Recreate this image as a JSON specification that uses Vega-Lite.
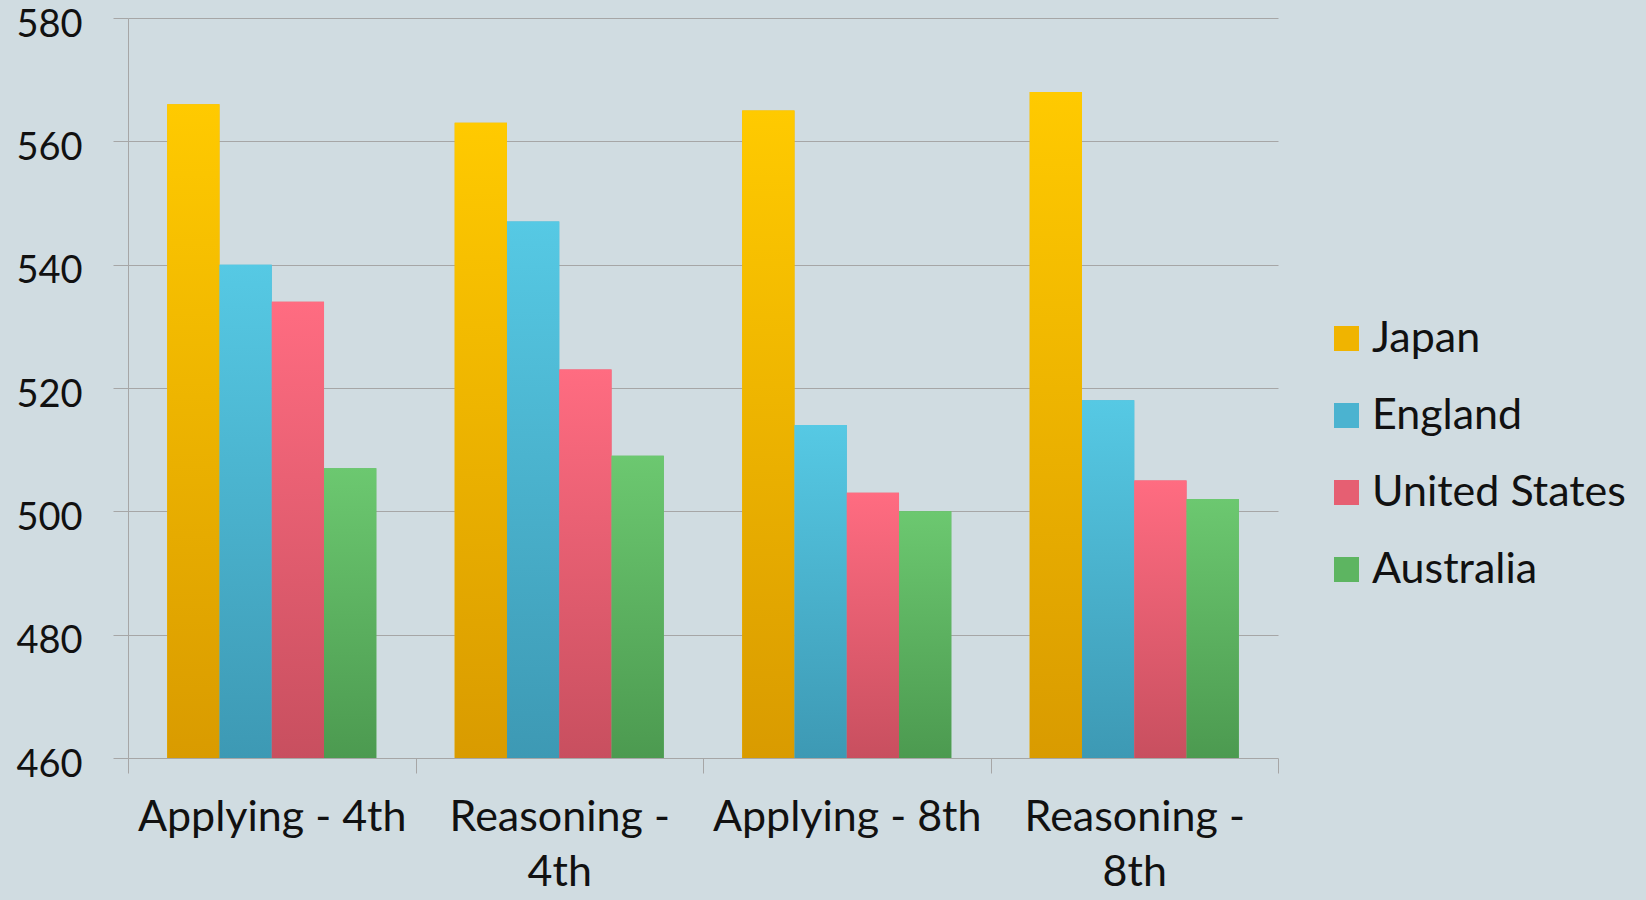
{
  "$schema": "https://vega.github.io/schema/vega-lite/v6.json",
  "width": 1150,
  "height": 740,
  "autosize": {"type": "none"},
  "padding": {"left": 128, "top": 18, "right": 368, "bottom": 142},
  "background": "#D0DCE1",
  "config": {
    "view": {"stroke": null},
    "font": "Lato",
    "axis": {"labelFont": "Lato", "labelColor": "#111111", "gridColor": "#A6A6A6", "gridWidth": 1, "domainColor": "#A6A6A6", "tickColor": "#A6A6A6", "tickSize": 15},
    "legend": {"labelFont": "Lato", "labelColor": "#111111"}
  },
  "data": {
    "values": [
      {"category": "Applying - 4th", "country": "Japan", "score": 566},
      {"category": "Applying - 4th", "country": "England", "score": 540},
      {"category": "Applying - 4th", "country": "United States", "score": 534},
      {"category": "Applying - 4th", "country": "Australia", "score": 507},
      {"category": "Reasoning - 4th", "country": "Japan", "score": 563},
      {"category": "Reasoning - 4th", "country": "England", "score": 547},
      {"category": "Reasoning - 4th", "country": "United States", "score": 523},
      {"category": "Reasoning - 4th", "country": "Australia", "score": 509},
      {"category": "Applying - 8th", "country": "Japan", "score": 565},
      {"category": "Applying - 8th", "country": "England", "score": 514},
      {"category": "Applying - 8th", "country": "United States", "score": 503},
      {"category": "Applying - 8th", "country": "Australia", "score": 500},
      {"category": "Reasoning - 8th", "country": "Japan", "score": 568},
      {"category": "Reasoning - 8th", "country": "England", "score": 518},
      {"category": "Reasoning - 8th", "country": "United States", "score": 505},
      {"category": "Reasoning - 8th", "country": "Australia", "score": 502}
    ]
  },
  "encoding": {
    "x": {
      "field": "category", "type": "nominal",
      "sort": ["Applying - 4th", "Reasoning - 4th", "Applying - 8th", "Reasoning - 8th"],
      "scale": {"paddingInner": 0, "paddingOuter": 0},
      "axis": {
        "title": null, "labelAngle": 0, "labelFontSize": 43, "labelPadding": 23, "labelLimit": 500,
        "labelLineHeight": 55, "tickBand": "extent", "grid": false, "domain": false,
        "labelExpr": "indexof(datum.label, 'Reasoning') == 0 ? [substring(datum.label, 0, 11), substring(datum.label, 12)] : datum.label"
      }
    },
    "xOffset": {
      "field": "country", "type": "nominal",
      "sort": ["Japan", "England", "United States", "Australia"],
      "scale": {"paddingInner": 0, "paddingOuter": 0.75}
    },
    "y": {
      "field": "score", "type": "quantitative",
      "scale": {"domain": [460, 580], "zero": false, "nice": false},
      "axis": {
        "title": null, "values": [460, 480, 500, 520, 540, 560, 580], "labelFontSize": 38,
        "labelPadding": 31, "labelOffset": 7, "grid": true, "domain": true
      }
    },
    "y2": {"datum": 460}
  },
  "layer": [
    {
      "mark": {"type": "bar"},
      "encoding": {
        "color": {
          "field": "country", "type": "nominal",
          "sort": ["Japan", "England", "United States", "Australia"],
          "scale": {"domain": ["Japan", "England", "United States", "Australia"], "range": ["#F0B400", "#4BB3D0", "#E65F72", "#5DB561"]},
          "legend": {
            "title": null, "orient": "none", "legendX": 1197, "legendY": 299,
            "symbolType": "square", "symbolSize": 625, "symbolStrokeWidth": 0,
            "labelFontSize": 43, "labelOffset": 4, "labelLimit": 500, "rowPadding": 33, "padding": 0,
            "symbolFillColor": "#F0B400",
            "encode": {
              "symbols": {
                "update": {
                  "fill": {"signal": "{gradient: 'linear', x1: 0, y1: 0, x2: 0, y2: 1, stops: datum.value === 'Japan' ? [{offset: 0, color: '#FFCA00'}, {offset: 1, color: '#D99B00'}] : datum.value === 'England' ? [{offset: 0, color: '#56C9E4'}, {offset: 1, color: '#3D99B4'}] : datum.value === 'United States' ? [{offset: 0, color: '#FF6C81'}, {offset: 1, color: '#C84F5F'}] : [{offset: 0, color: '#6CC870'}, {offset: 1, color: '#4C9A50'}]}"}
                }
              }
            }
          }
        }
      }
    },
    {
      "mark": {"type": "bar"},
      "encoding": {
        "color": {
          "condition": [
            {"test": "datum.country === 'Japan'", "value": {"gradient": "linear", "x1": 0, "y1": 0, "x2": 0, "y2": 1, "stops": [{"offset": 0, "color": "#FFCA00"}, {"offset": 1, "color": "#D99B00"}]}},
            {"test": "datum.country === 'England'", "value": {"gradient": "linear", "x1": 0, "y1": 0, "x2": 0, "y2": 1, "stops": [{"offset": 0, "color": "#56C9E4"}, {"offset": 1, "color": "#3D99B4"}]}},
            {"test": "datum.country === 'United States'", "value": {"gradient": "linear", "x1": 0, "y1": 0, "x2": 0, "y2": 1, "stops": [{"offset": 0, "color": "#FF6C81"}, {"offset": 1, "color": "#C84F5F"}]}}
          ],
          "value": {"gradient": "linear", "x1": 0, "y1": 0, "x2": 0, "y2": 1, "stops": [{"offset": 0, "color": "#6CC870"}, {"offset": 1, "color": "#4C9A50"}]}
        }
      }
    }
  ]
}
